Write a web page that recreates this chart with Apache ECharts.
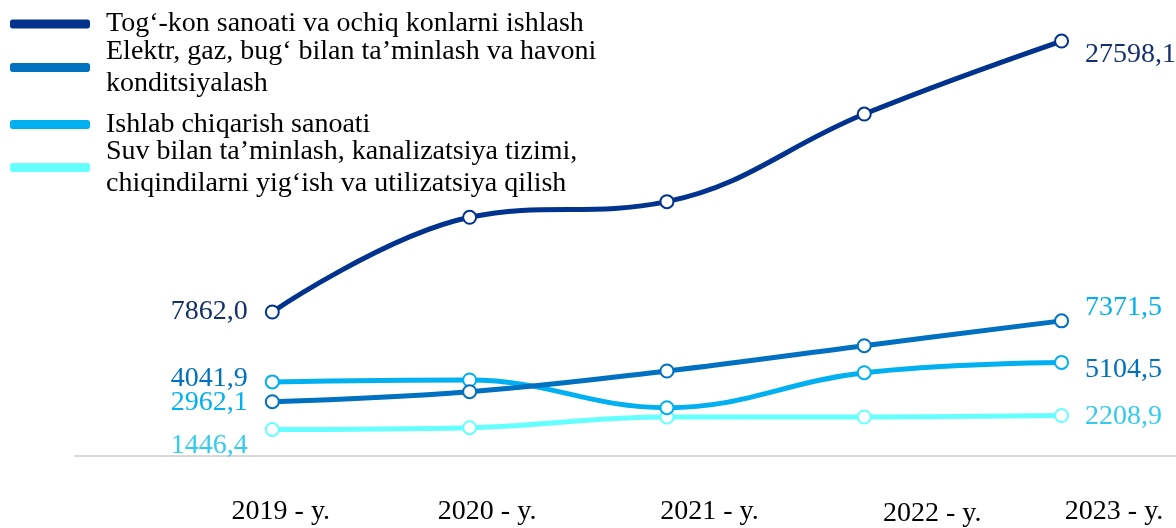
<!DOCTYPE html>
<html>
<head>
<meta charset="utf-8">
<script src="https://cdn.jsdelivr.net/npm/echarts@6/dist/echarts.min.js"></script>
<style>
html,body{margin:0;padding:0;background:#fff;}
#chart{width:1176px;height:528px;}
</style>
</head>
<body>
<div id="chart"></div>
<script>
const years = [2019, 2020, 2021, 2022, 2023];
const seriesNames = [
  'Tog‘-kon sanoati va ochiq konlarni ishlash',
  'Elektr, gaz, bug‘ bilan ta’minlash va havoni\nkonditsiyalash',
  'Ishlab chiqarish sanoati',
  'Suv bilan ta’minlash, kanalizatsiya tizimi,\nchiqindilarni yig‘ish va utilizatsiya qilish'
];
const togKon = [7862.0, 14760, 15900, 22280, 27598.1];
const elektr = [2962.1, 3507, 4636, 6016, 7371.5];
const ishlab = [4041.9, 4145, 2635, 4544, 5104.5];
const suv = [1446.4, 1544, 2127, 2127, 2208.9];

const lineColors = ['#00338E', '#0070C0', '#00B0F0', '#66FFFF'];
const FONT = "'Liberation Serif', 'Times New Roman', serif";

const labelStyles = [
  { c0: '#14306E', o0: [0, 0], c1: '#14306E', o1: [0, 14] },
  { c0: '#00B0F0', o0: [0, 1], c1: '#00B0F0', o1: [0, -13] },
  { c0: '#0070C0', o0: [0, -3], c1: '#0070C0', o1: [0, 7] },
  { c0: '#33CCEE', o0: [0, 16], c1: '#33CCEE', o1: [0, 1] }
];

function fmt(v) { return v.toFixed(1).replace('.', ','); }

function buildData(vals, ls) {
  return years.map((y, i) => {
    const item = { value: [y, vals[i]] };
    if (i === 0) {
      item.label = { show: true, position: 'left', distance: 17, offset: ls.o0, color: ls.c0,
        fontSize: 28, fontFamily: FONT, formatter: () => fmt(vals[i]) };
    } else if (i === years.length - 1) {
      item.label = { show: true, position: 'right', distance: 16, offset: ls.o1, color: ls.c1,
        fontSize: 28, fontFamily: FONT, formatter: () => fmt(vals[i]) };
    }
    return item;
  });
}

const allVals = [togKon, elektr, ishlab, suv];

const series = allVals.map((vals, k) => ({
  name: seriesNames[k],
  type: 'line',
  yAxisIndex: k === 0 ? 1 : 0,
  smooth: 0.4,
  symbol: 'circle',
  symbolSize: 13,
  lineStyle: { color: lineColors[k], width: 5 },
  itemStyle: { color: '#fff', borderColor: lineColors[k], borderWidth: 2 },
  label: { show: false },
  emphasis: { disabled: true },
  z: 10 - k,
  data: buildData(vals, labelStyles[k])
}));

const legendTops = [4.5, 32, 105, 132];
const legends = seriesNames.map((n, k) => ({
  data: [{ name: n, itemStyle: { color: lineColors[k] } }],
  left: 10,
  top: legendTops[k],
  padding: 0,
  orient: 'vertical',
  icon: 'roundRect',
  itemWidth: 78,
  itemHeight: 7,
  selectedMode: false,
  textStyle: { fontFamily: FONT, fontSize: 28, lineHeight: 32, color: '#000', padding: [0, 0, 7, 12] }
}));

const xRich = {};
const xPad = { 2019: [2, 0, 0, 17], 2020: [2, 0, 0, 35], 2021: [1, 0, 0, 85], 2022: [5, 0, 0, 136], 2023: [1, 0, 0, 105] };
years.forEach(y => {
  xRich['y' + y] = { fontFamily: FONT, fontSize: 28, lineHeight: 30, color: '#000', padding: xPad[y] };
});

const option = {
  backgroundColor: '#fff',
  animation: false,
  legend: legends,
  grid: { left: 75, right: 0, top: 16, bottom: 72, outerBoundsMode: 'none', containLabel: false },
  xAxis: {
    type: 'value',
    min: 2018,
    max: 2023.58,
    interval: 1,
    axisLine: { show: true, lineStyle: { color: '#D9D9D9', width: 2 } },
    axisTick: { show: false },
    splitLine: { show: false },
    axisLabel: {
      margin: 40,
      formatter: function (v) {
        if (years.indexOf(v) < 0) return '';
        return '{y' + v + '|' + v + ' - y.}';
      },
      rich: xRich
    }
  },
  yAxis: [
    { type: 'value', min: 0, max: 24000, show: false, splitLine: { show: false } },
    { type: 'value', min: -2625, max: 29420, show: false, splitLine: { show: false } }
  ],
  series: series
};

const chart = echarts.init(document.getElementById('chart'), null, { renderer: 'canvas' });
chart.setOption(option);
</script>
</body>
</html>
